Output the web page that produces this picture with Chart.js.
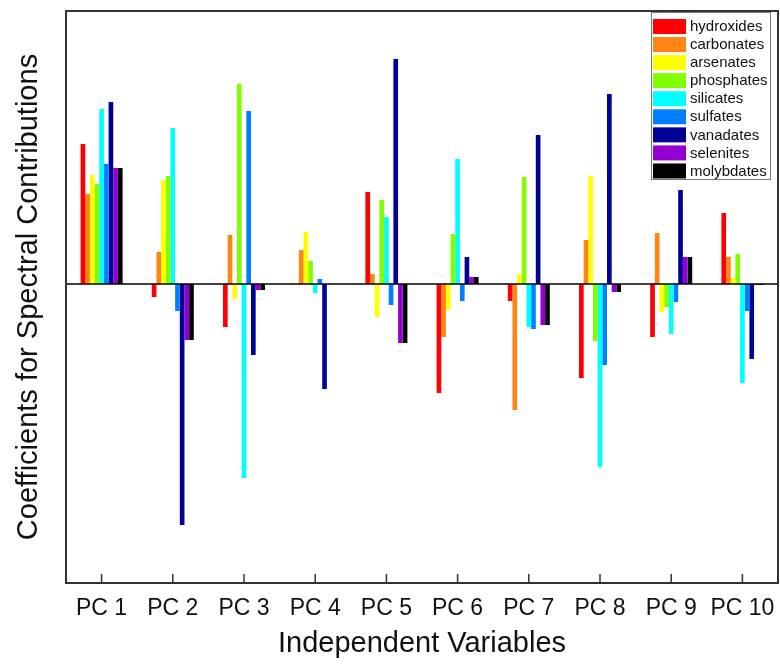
<!DOCTYPE html>
<html>
<head>
<meta charset="utf-8">
<script src="https://cdn.jsdelivr.net/npm/chart.js@4.4.1/dist/chart.umd.min.js"></script>
<style>
  html, body { margin: 0; padding: 0; background: #fff; }
  #wrap { width: 780px; height: 664px; }
</style>
</head>
<body>
<div id="wrap"><canvas id="pc-chart" width="780" height="664"></canvas></div>
<script>
// categories and series (coefficients, arbitrary units)
const labels = ['PC 1', 'PC 2', 'PC 3', 'PC 4', 'PC 5', 'PC 6', 'PC 7', 'PC 8', 'PC 9', 'PC 10'];

const hydroxides = [1.40, -0.13, -0.43, 0.00, 0.92, -1.09, -0.17, -0.94, -0.53, 0.71];
const carbonates = [0.90, 0.32, 0.49, 0.34, 0.10, -0.53, -1.26, 0.44, 0.51, 0.27];
const arsenates  = [1.09, 1.04, -0.15, 0.52, -0.33, -0.26, 0.10, 1.08, -0.28, 0.06];
const phosphates = [1.00, 1.08, 2.00, 0.23, 0.84, 0.50, 1.07, -0.57, -0.23, 0.30];
const silicates  = [1.75, 1.56, -1.94, -0.09, 0.67, 1.25, -0.43, -1.83, -0.50, -0.99];
const sulfates   = [1.20, -0.27, 1.73, 0.05, -0.21, -0.17, -0.45, -0.81, -0.18, -0.27];
const vanadates  = [1.82, -2.41, -0.71, -1.05, 2.25, 0.27, 1.49, 1.90, 0.94, -0.75];
const selenites  = [1.16, -0.56, -0.06, 0.00, -0.59, 0.07, -0.41, -0.08, 0.27, -0.01];
const molybdates = [1.16, -0.56, -0.06, 0.00, -0.59, 0.07, -0.41, -0.08, 0.27, -0.01];

const seriesNames = ['hydroxides', 'carbonates', 'arsenates', 'phosphates', 'silicates',
                     'sulfates', 'vanadates', 'selenites', 'molybdates'];
const seriesData = [hydroxides, carbonates, arsenates, phosphates, silicates,
                    sulfates, vanadates, selenites, molybdates];
const colors = ['#ff0000', '#ff8514', '#ffff00', '#80ff00', '#00ffff',
                '#0080ff', '#000096', '#9400d3', '#000000'];

Chart.defaults.font.family = '"Liberation Sans", Arial, sans-serif';
Chart.defaults.color = '#111';

// frame, zero line, inward x ticks
const framePlugin = {
  id: 'frame',
  afterDatasetsDraw(chart) {
    const ctx = chart.ctx;
    const a = chart.chartArea;
    const x = chart.scales.x, y = chart.scales.y;
    ctx.save();
    // zero line
    const y0 = y.getPixelForValue(0);
    ctx.strokeStyle = '#000';
    ctx.lineWidth = 1.5;
    ctx.beginPath();
    ctx.moveTo(a.left, y0);
    ctx.lineTo(a.right, y0);
    ctx.stroke();
    // ticks
    ctx.strokeStyle = '#333';
    ctx.lineWidth = 1.5;
    for (let i = 0; i < labels.length; i++) {
      const px = x.getPixelForTick(i);
      ctx.beginPath();
      ctx.moveTo(px, a.bottom);
      ctx.lineTo(px, a.bottom - 9);
      ctx.stroke();
    }
    // box
    ctx.strokeStyle = '#333';
    ctx.lineWidth = 2;
    ctx.strokeRect(a.left, a.top, a.right - a.left, a.bottom - a.top);
    ctx.restore();
  }
};

// legend box in the upper right
const legendPlugin = {
  id: 'boxLegend',
  afterDraw(chart) {
    const ctx = chart.ctx;
    const bx = 651, by = 12, bw = 119, bh = 167;
    ctx.save();
    ctx.fillStyle = '#fff';
    ctx.fillRect(bx, by, bw, bh);
    ctx.strokeStyle = '#777';
    ctx.lineWidth = 1;
    ctx.strokeRect(bx + 0.5, by + 0.5, bw, bh);
    ctx.font = '15px "Liberation Sans", Arial, sans-serif';
    ctx.textBaseline = 'middle';
    chart.data.datasets.forEach((ds, i) => {
      const cy = 26.5 + i * 18.06;
      ctx.fillStyle = ds.backgroundColor;
      ctx.fillRect(bx + 2, cy - 7.5, 33, 15);
      ctx.fillStyle = '#111';
      ctx.fillText(ds.label, 690, cy + 0.5);
    });
    ctx.restore();
  }
};

new Chart(document.getElementById('pc-chart'), {
  type: 'bar',
  data: {
    labels: labels,
    datasets: seriesNames.map((name, i) => ({
      label: name,
      data: seriesData[i],
      backgroundColor: colors[i],
      borderWidth: 0,
      categoryPercentage: 0.59,
      barPercentage: 1.0
    }))
  },
  options: {
    responsive: false,
    animation: false,
    layout: { padding: { top: 11, right: 2, left: 0, bottom: 0 } },
    plugins: {
      legend: { display: false },
      tooltip: { enabled: false }
    },
    scales: {
      x: {
        grid: { display: false, drawTicks: false },
        border: { display: false },
        ticks: { font: { size: 23 }, padding: 12, maxRotation: 0, autoSkip: false, color: '#111' },
        title: {
          display: true,
          text: 'Independent Variables',
          font: { size: 29 },
          padding: { top: 0, bottom: 3 },
          color: '#111'
        },
        afterFit(scale) {
          scale.height = 81;
          scale.paddingLeft = 0;
          scale.paddingRight = 0;
        }
      },
      y: {
        min: -2.99,
        max: 2.73,
        grid: { display: false, drawTicks: false },
        border: { display: false },
        ticks: { display: false },
        title: {
          display: true,
          text: 'Coefficients for Spectral Contributions',
          font: { size: 29 },
          padding: { top: 12, bottom: 0 },
          color: '#111'
        },
        afterFit(scale) { scale.width = 66; }
      }
    }
  },
  plugins: [framePlugin, legendPlugin]
});
</script>
</body>
</html>
